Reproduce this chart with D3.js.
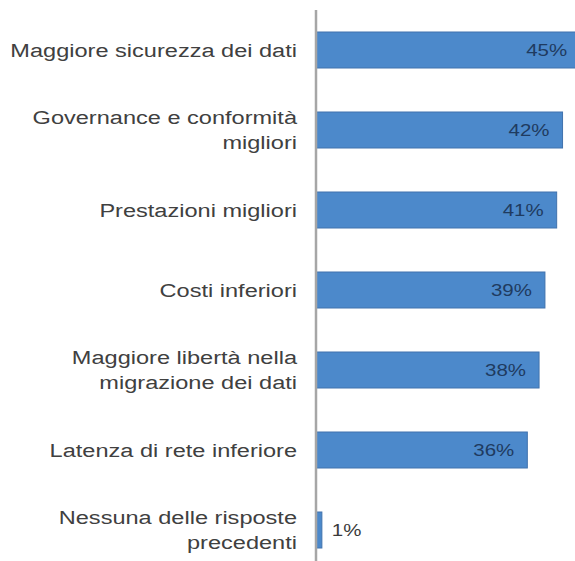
<!DOCTYPE html>
<html>
<head>
<meta charset="utf-8">
<script src="https://cdn.jsdelivr.net/npm/d3@7"></script>
<style>
  html, body { margin: 0; padding: 0; background: #fff; }
  svg { display: block; }
</style>
</head>
<body>
<svg id="chart" width="575" height="561"></svg>
<script>
const categories = [
  ["Maggiore sicurezza dei dati"],
  ["Governance e conformità", "migliori"],
  ["Prestazioni migliori"],
  ["Costi inferiori"],
  ["Maggiore libertà nella", "migrazione dei dati"],
  ["Latenza di rete inferiore"],
  ["Nessuna delle risposte", "precedenti"]
];
const values = [0.45, 0.42, 0.41, 0.39, 0.38, 0.36, 0.01];
const valueLabels = ["45%", "42%", "41%", "39%", "38%", "36%", "1%"];

const svg = d3.select("#chart");
const axisX = 316;
const keys = categories.map((c, i) => i);

const y = d3.scaleBand().domain(keys).range([10, 570]).paddingInner(0.55).paddingOuter(0.275);
const x = d3.scaleLinear().domain([0, 1]).range([axisX, axisX + 587]);

const labelSX = 1.24, valueSX = 1.28;

// bars
svg.append("g").selectAll("rect").data(values).join("rect")
  .attr("x", x(0))
  .attr("y", (d, i) => y(i))
  .attr("width", d => x(d) - x(0))
  .attr("height", y.bandwidth())
  .attr("fill", "#4c89cb")
  .attr("stroke", "#4072ad")
  .attr("stroke-width", 1);

// axis line
svg.append("line")
  .attr("x1", axisX).attr("x2", axisX)
  .attr("y1", 10).attr("y2", 561)
  .attr("stroke", "#a6a6a6").attr("stroke-width", 2.5);

// category labels
const lineH = 25;
const cat = svg.append("g").selectAll("g").data(categories).join("g")
  .attr("transform", (d, i) => `translate(297,${y(i) + y.bandwidth() / 2}) scale(${labelSX},1)`);
cat.each(function(lines) {
  const g = d3.select(this);
  const n = lines.length;
  lines.forEach((t, k) => {
    g.append("text")
      .attr("x", 0)
      .attr("y", (k - (n - 1) / 2) * lineH)
      .attr("dy", "0.35em")
      .attr("text-anchor", "end")
      .attr("font-family", "Liberation Sans, Arial, sans-serif")
      .attr("font-size", 19)
      .attr("fill", "#404040")
      .text(t);
  });
});

// value labels
svg.append("g").selectAll("g").data(values).join("g")
  .attr("transform", (d, i) => {
    const inside = d > 0.05;
    const px = inside ? x(d) - 13 : x(d) + 10;
    return `translate(${px},${y(i) + y.bandwidth() / 2}) scale(${valueSX},1)`;
  })
  .append("text")
  .attr("text-anchor", d => d > 0.05 ? "end" : "start")
  .attr("dy", "0.35em")
  .attr("font-family", "Liberation Sans, Arial, sans-serif")
  .attr("font-size", 16)
  .attr("fill", d => d > 0.05 ? "#1f3b60" : "#3a3a3a")
  .text((d, i) => valueLabels[i]);
</script>
</body>
</html>
